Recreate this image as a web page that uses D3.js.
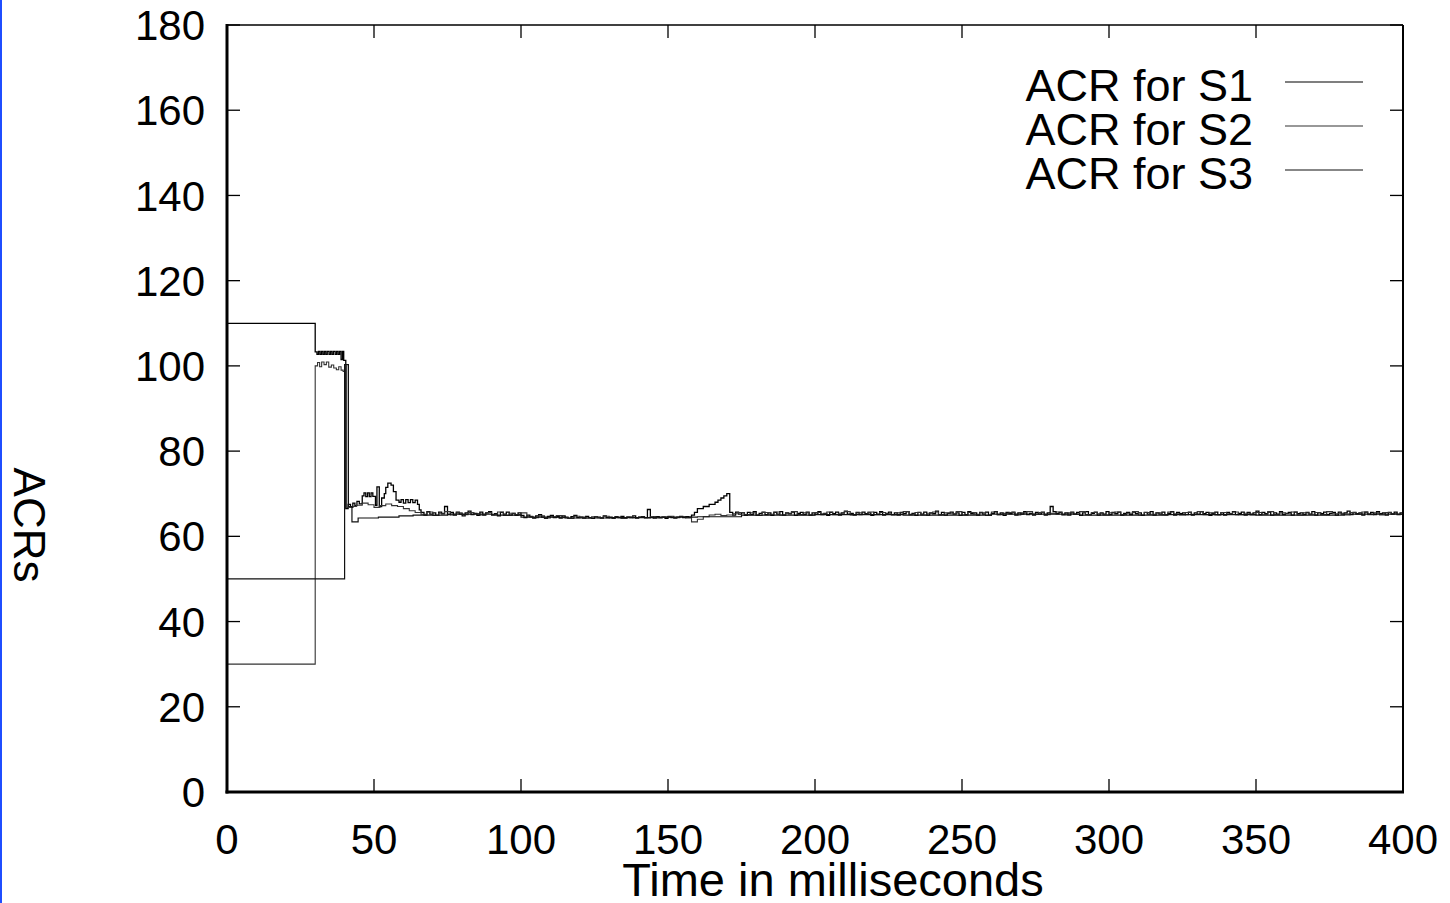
<!DOCTYPE html>
<html>
<head>
<meta charset="utf-8">
<script src="https://cdn.jsdelivr.net/npm/d3@7"></script>
<style>
  body { margin: 0; background: #fff; }
  svg { display: block; font-family: "Liberation Sans", Arial, sans-serif; }
</style>
</head>
<body>
<script>
// ACR traces, step plot. early parts as [ms, value] pairs, tails as sampled values
var s1Early = [
  [0,110],[30,103.3],[30.6,102.7],[31.1,103.4],[31.6,102.7],[32.1,103.4],[32.6,102.7],
  [33.1,103.4],[33.6,102.7],[34.1,103.4],[34.7,102.7],[35.2,103.4],[35.7,102.7],
  [36.2,103.4],[36.8,102.7],[37.3,103.4],[37.8,102.7],[38.3,103.4],[38.8,101.5],
  [39.3,103.4],[39.7,101.3],[40.4,66.5],[41.2,67.5],[42,66.8],[42.8,67.8],[43.5,67.2],
  [44.2,68.2],[45,67.6],[46,69.5],[46.6,70.2],[47.2,69.3],[47.8,70.2],[48.4,69.3],
  [49,70.2],[49.6,69.4],[50.5,67.3],[51,71.6],[51.8,67],[52.6,69],[53.5,70],[54,71.5],
  [54.7,72.5],[55.8,72],[56.6,70.5],[57.5,68.5],[58.5,68],[59.2,68.6],[60,67.8],
  [60.8,68.6],[61.6,67.9],[62.4,68.6],[63.2,67.9],[64,68.5],[64.8,67.5],[65.4,66.2]
];
// 1 ms samples from 66 ms
var s1Tail = [
  65.6,65.0,65.8,65.2,65.5,64.9,65.7,65.3,67.0,65.1,
  65.6,65.0,65.7,65.2,64.8,65.5,65.9,65.1,65.4,64.9,
  65.7,65.0,65.5,65.8,65.1,65.3,64.8,65.6,65.2,65.7,
  65.0,65.4,64.9,65.5,64.9,64.4,65.0,64.6,64.3,64.8,
  65.1,64.5,64.2,64.7,64.9,64.4,64.6,64.3,64.8,64.5,
  64.2,64.6,64.9,64.4,64.5,64.3,64.7,64.4,64.2,64.6,
  64.5,64.3,64.8,64.4,64.5,64.2,64.6,64.4,64.7,64.3,
  64.5,64.4,64.8,64.3,64.5,64.6,64.4,66.3,64.5,64.3,
  64.6,64.4,64.5,64.2,64.6,64.4,64.3,64.5,64.7,64.4,
  64.6,64.5,65.0,65.6,66.5,66.5,67.0,67.0,67.5,67.5,
  68.0,68.5,69.0,69.5,70.0,65.6,65.0,65.7,65.2,65.5,
  64.9,65.6,65.1,65.8,65.0,65.4,65.7,65.1,65.5,64.9,
  65.6,65.2,65.8,65.0,65.5,65.3,65.7,64.9,65.4,65.6,
  65.1,65.7,65.0,65.5,65.2,65.8,65.1,65.4,64.9,65.6,
  65.3,65.7,65.0,65.5,65.9,65.2,65.4,65.0,65.6,65.1,
  65.7,65.3,65.5,64.9,65.6,65.2,65.8,65.0,65.4,65.7,
  65.1,65.5,65.0,65.6,65.3,65.8,65.1,65.4,64.9,65.6,
  65.2,65.7,65.0,65.5,65.3,65.9,65.1,65.6,65.0,65.4,
  65.7,65.2,65.5,64.9,65.6,65.1,65.8,65.3,65.5,65.0,
  65.6,65.2,65.7,65.0,65.4,65.8,65.1,65.5,64.9,65.6,
  65.3,65.7,65.0,65.5,65.2,65.8,65.1,65.4,65.0,65.6,
  65.2,65.7,65.0,65.5,67.0,65.8,65.3,65.6,65.1,65.5,
  65.0,65.7,65.2,65.6,64.9,65.5,65.8,65.1,65.4,65.7,
  65.0,65.5,65.2,65.8,65.1,65.6,65.3,65.7,65.0,65.4,
  65.6,65.1,65.7,65.3,65.5,64.9,65.6,65.2,65.8,65.0,
  65.5,65.2,65.7,65.1,65.4,65.8,65.0,65.6,65.3,65.5,
  65.1,65.7,65.0,65.5,65.2,65.8,65.3,65.6,64.9,65.4,
  65.7,65.1,65.5,65.0,65.6,65.3,65.8,65.1,65.4,65.7,
  65.0,65.6,65.2,65.5,65.9,65.1,65.6,65.3,65.7,65.0,
  65.5,65.2,65.8,65.1,65.4,65.6,65.0,65.7,65.3,65.5,
  65.1,65.6,65.2,65.8,65.0,65.5,65.3,65.7,65.1,65.4,
  65.6,65.0,65.7,65.2,65.5,65.9,65.1,65.6,65.3,65.5,
  65.0,65.7,65.2,65.6,65.1,65.8,65.3,65.5,65.0,65.6,
  65.2,65.7,65.1,65.5,65.3
];

var s2Early = [
  [0,30],[30,100],[30.8,100.8],[31.5,99.8],[32.2,100.9],[33,100.3],[33.8,100.9],
  [34.6,99.7],[35.5,100.2],[36.3,99.5],[37.2,99.1],[38,99.8],[38.8,99],[39.5,98.7],
  [40,100],[40.7,66.8],[42.5,67],[44,67.3],[46,67.8],[48,67.4],[50,66.8],[52,67.2],
  [54,67.6],[56,67.2],[58,67],[60,66.5],[62,66],[64,65.6]
];
// 2 ms samples from 66 ms
var s2Tail = [
  65.2,65.7,64.9,65.4,65.8,65.0,65.5,65.1,65.6,65.3,
  65.0,65.6,65.2,65.7,64.9,65.4,65.1,65.5,64.7,64.4,
  64.8,64.3,64.6,64.9,64.4,64.2,64.7,64.5,64.3,64.6,
  64.4,64.7,64.3,64.5,64.2,64.6,64.4,64.5,64.3,64.6,
  64.3,64.5,64.7,64.4,64.6,64.3,63.4,64.0,64.6,65.0,
  65.2,64.9,65.0,65.3,65.6,65.1,65.5,64.9,65.6,65.2,
  65.7,65.0,65.4,65.8,65.1,65.5,65.0,65.6,65.3,65.7,
  65.1,65.4,65.8,65.0,65.5,65.2,65.7,65.1,65.6,65.3,
  65.0,65.5,65.8,65.2,65.6,65.0,65.4,65.7,65.1,65.5,
  65.3,65.8,65.0,65.6,65.2,65.5,64.9,65.7,65.1,65.4,
  65.6,65.0,65.5,65.8,65.2,65.6,65.1,65.4,65.7,65.0,
  65.5,65.2,65.8,65.1,65.6,65.3,65.0,65.5,65.7,65.1,
  65.4,65.8,65.0,65.6,65.2,65.5,65.1,65.7,65.3,65.0,
  65.6,65.2,65.8,65.1,65.5,65.0,65.6,65.3,65.7,65.1,
  65.4,65.0,65.6,65.2,65.8,65.1,65.5,65.3,65.7,65.0,
  65.5,65.2,65.6,65.1,65.8,65.3,65.4,65.0,65.6,65.2,
  65.7,65.1,65.5,65.0,65.6,65.3,65.2,65.4
];

var s3Points = [
  [0,50],[40,100.3],[41.3,67],[42.5,63.4],[44.6,64.3],[51.5,64.5],[58.5,64.8],
  [63.3,65.0],[66,65.0],[75,65.2],[90,65.0],[100,64.5],[115,64.3],[130,64.4],
  [145,64.5],[160,64.6],[175,65.0],[200,65.1],[230,65.0],[260,65.2],[290,65.0],
  [320,65.1],[350,65.0],[380,65.2],[400,65.1]
];

var seriesNames = ["ACR for S1", "ACR for S2", "ACR for S3"];
var xTicks = [0, 50, 100, 150, 200, 250, 300, 350, 400];
var yTicks = [0, 20, 40, 60, 80, 100, 120, 140, 160, 180];

function withTail(early, tail, start, step) {
  return early.concat(tail.map(function(v, i) { return [start + i * step, v]; }));
}

var series = [
  withTail(s1Early, s1Tail, 66, 1),
  withTail(s2Early, s2Tail, 66, 2),
  s3Points
];

var W = 1450, H = 903;
var pLeft = 227, pRight = 1403, pTop = 25, pBottom = 792;

var svg = d3.select("body").append("svg").attr("width", W).attr("height", H);

// blue edge on the left of the page
svg.append("rect").attr("x", 0).attr("y", 0).attr("width", 2).attr("height", H).attr("fill", "#1f4dff");

var x = d3.scaleLinear().domain([0, 400]).range([pLeft, pRight]);
var y = d3.scaleLinear().domain([0, 180]).range([pBottom, pTop]);

svg.append("clipPath").attr("id", "clip")
  .append("rect").attr("x", pLeft).attr("y", pTop).attr("width", pRight - pLeft).attr("height", pBottom - pTop);

var line = d3.line()
  .x(function(d) { return x(d[0]); })
  .y(function(d) { return y(d[1]); })
  .curve(d3.curveStepAfter);

var strokes = ["#000", "#333", "#111"];
var widths = [1.3, 1.1, 1.2];

svg.append("g").attr("clip-path", "url(#clip)")
  .selectAll("path")
  .data(series)
  .enter().append("path")
    .attr("d", line)
    .attr("fill", "none")
    .attr("stroke", function(d, i) { return strokes[i]; })
    .attr("stroke-width", function(d, i) { return widths[i]; });

// ticks on all four sides, pointing in
var tl = 13;
var tg = svg.append("g").attr("stroke", "#000").attr("stroke-width", 1.3);
xTicks.forEach(function(t) {
  tg.append("line").attr("x1", x(t)).attr("x2", x(t)).attr("y1", pBottom).attr("y2", pBottom - tl);
  tg.append("line").attr("x1", x(t)).attr("x2", x(t)).attr("y1", pTop).attr("y2", pTop + tl);
});
yTicks.forEach(function(t) {
  tg.append("line").attr("x1", pLeft).attr("x2", pLeft + tl).attr("y1", y(t)).attr("y2", y(t));
  tg.append("line").attr("x1", pRight).attr("x2", pRight - tl).attr("y1", y(t)).attr("y2", y(t));
});

// frame
svg.append("line").attr("x1", pLeft).attr("x2", pRight).attr("y1", pTop).attr("y2", pTop)
  .attr("stroke", "#000").attr("stroke-width", 1.5);
svg.append("line").attr("x1", pRight).attr("x2", pRight).attr("y1", pTop).attr("y2", pBottom)
  .attr("stroke", "#000").attr("stroke-width", 2);
svg.append("line").attr("x1", pLeft).attr("x2", pLeft).attr("y1", pTop - 1).attr("y2", pBottom + 1.5)
  .attr("stroke", "#000").attr("stroke-width", 3);
svg.append("line").attr("x1", pLeft - 1.5).attr("x2", pRight + 1).attr("y1", pBottom).attr("y2", pBottom)
  .attr("stroke", "#000").attr("stroke-width", 3);

// tick labels
svg.append("g").selectAll("text").data(yTicks).enter().append("text")
  .attr("x", 205).attr("y", function(d) { return y(d); })
  .attr("dy", "0.36em")
  .attr("text-anchor", "end")
  .attr("font-size", 42)
  .text(function(d) { return d; });

svg.append("g").selectAll("text").data(xTicks).enter().append("text")
  .attr("x", function(d) { return x(d); }).attr("y", 854)
  .attr("text-anchor", "middle")
  .attr("font-size", 42)
  .text(function(d) { return d; });

// axis titles
svg.append("text").attr("x", 833).attr("y", 896)
  .attr("text-anchor", "middle").attr("font-size", 47)
  .text("Time in milliseconds");

svg.append("text")
  .attr("transform", "translate(14,525) rotate(90)")
  .attr("text-anchor", "middle").attr("font-size", 44)
  .text("ACRs");

// legend
var leg = svg.append("g");
seriesNames.forEach(function(name, i) {
  var ly = 85 + i * 44;
  leg.append("text").attr("x", 1253).attr("y", ly).attr("dy", "0.36em")
    .attr("text-anchor", "end").attr("font-size", 45).text(name);
  leg.append("line").attr("x1", 1285).attr("x2", 1363).attr("y1", ly - 3).attr("y2", ly - 3)
    .attr("stroke", strokes[i]).attr("stroke-width", 1.2);
});
</script>
</body>
</html>
